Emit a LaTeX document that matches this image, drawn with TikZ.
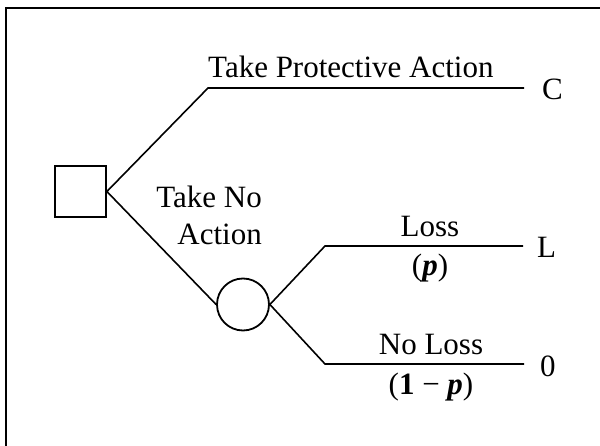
\documentclass[tikz,border=0pt]{standalone}
\usepackage{fontspec}
\setmainfont{Liberation Serif}
\begin{document}
\begin{tikzpicture}[x=1pt,y=-1pt,
  lbl/.style={inner sep=0pt, font=\fontsize{31}{37}\selectfont},
  branch/.style={line width=1.6pt},
  frameline/.style={line width=2pt},
  decbox/.style={draw, line width=1.8pt, minimum size=51pt, inner sep=0pt},
  chancenode/.style={draw, circle, line width=1.8pt, minimum size=52pt, inner sep=0pt}]
\useasboundingbox (0,0) rectangle (600,446);
% frame
\coordinate (fA) at (6,446);
\coordinate (fB) at (6,8);
\coordinate (fC) at (600,8);
\draw[frameline] (fA) -- (fB) -- (fC);
% nodes
\node[decbox] (dec) at (80.5,191.5) {};
\node[chancenode] (chance) at (243,304.5) {};
% corners and ends
\coordinate (k1) at (208,88);
\coordinate (e1) at (524,88);
\coordinate (k2) at (325,246);
\coordinate (e2) at (523,246);
\coordinate (k3) at (325,364);
\coordinate (e3) at (524,364);
% connectors
\draw[branch] (dec.east) -- (k1) -- (e1);
\draw[branch] (dec.east) -- (chance.west);
\draw[branch] (chance.east) -- (k2) -- (e2);
\draw[branch] (chance.east) -- (k3) -- (e3);
% labels
\node[lbl, anchor=base west] (tpa) at (208,78) {Take Protective Action};
\node[lbl, anchor=base west] (vC) at (542,100) {C};
\node[lbl, anchor=base east] (tn1) at (262,208) {Take No};
\node[lbl, anchor=base east] (tn2) at (262,245) {Action};
\node[lbl, anchor=base] (loss) at (430,237) {Loss};
\node[lbl, anchor=base] (pl) at (430,276) {(\textbf{\textit{p}})};
\node[lbl, anchor=base west] (vL) at (537,258) {L};
\node[lbl, anchor=base] (nloss) at (431,355) {No Loss};
\node[lbl, anchor=base] (pnl) at (431,395) {(\textbf{1} − \textbf{\textit{p}})};
\node[lbl, anchor=base west] (v0) at (540,377) {0};
\end{tikzpicture}
\end{document}
